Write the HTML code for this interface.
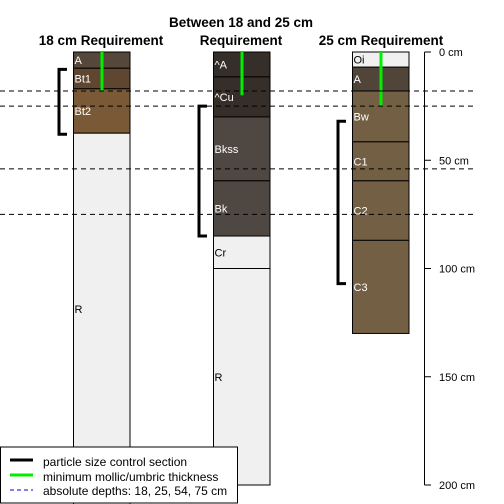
<!DOCTYPE html>
<html><head><meta charset="utf-8"><style>
body{margin:0;background:#fff;}
svg{display:block;font-family:"Liberation Sans",sans-serif;}
</style></head><body>
<svg id="c" width="504" height="504" viewBox="0 0 504 504">
<g id="titles" font-weight="bold" font-size="13.5" text-anchor="middle" fill="#000">
<text x="101" y="45">18 cm Requirement</text>
<text x="241" y="27">Between 18 and 25 cm</text>
<text x="241" y="45">Requirement</text>
<text x="381" y="45">25 cm Requirement</text>
</g>
<g id="profiles"></g>
<g id="dashes"></g>
<g id="axis"></g>
<g>
<rect x="0.5" y="447" width="237" height="56" fill="#fff" stroke="#000"/>
<line x1="10" y1="460" x2="33" y2="460" stroke="#000" stroke-width="3"/>
<line x1="10" y1="475" x2="33" y2="475" stroke="#00ee00" stroke-width="3"/>
<line x1="10" y1="490" x2="33" y2="490" stroke="#0000cc" stroke-dasharray="4,3"/>
<g font-size="12" fill="#000">
<text x="43" y="466">particle size control section</text>
<text x="43" y="481">minimum mollic/umbric thickness</text>
<text x="43" y="495">absolute depths: 18, 25, 54, 75 cm</text>
</g>
</g>
</svg>
<script>
const p1Names=["A","Bt1","Bt2","R"];
const p1Tops=[0,7.5,17,37.5];
const p1Bots=[7.5,17,37.5,215];
const p1Colors=["#55483a","#5e4630","#7a5a36","#f0f0f0"];
const p2Names=["^A","^Cu","Bkss","Bk","Cr","R"];
const p2Tops=[0,11.5,30,59.5,85,100];
const p2Bots=[11.5,30,59.5,85,100,200];
const p2Colors=["#352e29","#352e29","#4f4741","#4f4741","#f0f0f0","#f0f0f0"];
const p3Names=["Oi","A","Bw","C1","C2","C3"];
const p3Tops=[0,7,18,41.5,59.5,87];
const p3Bots=[7,18,41.5,59.5,87,130];
const p3Colors=["#f0f0f0","#514539","#735f43","#735f43","#735f43","#735f43"];
const mollic=[18,20,25];
const pscTop=[8,25,32];
const pscBot=[38,85,107];
const absDepths=[18,25,54,75];
const axisTicks=[0,50,100,150,200];

const NS="http://www.w3.org/2000/svg";
const y=d=>52+d*2.165;
function mk(tag,attrs,parent){const e=document.createElementNS(NS,tag);for(const k in attrs)e.setAttribute(k,attrs[k]);parent.appendChild(e);return e;}
const gp=document.getElementById('profiles');
const profs=[[p1Names,p1Tops,p1Bots,p1Colors,73],[p2Names,p2Tops,p2Bots,p2Colors,213],[p3Names,p3Tops,p3Bots,p3Colors,352]];
const W=56.5;
profs.forEach((p,pi)=>{
 const [n,t,b,c,x]=p;
 n.forEach((nm,i)=>{
  const r=mk('rect',{x:x+0.5,y:y(t[i]),width:W,height:y(b[i])-y(t[i]),fill:c[i],stroke:'#000','stroke-width':1},gp);
  
  
  const light=c[i]!=="#f0f0f0";
  const tx=mk('text',{x:x+1.5,y:(y(t[i])+y(Math.min(b[i],200)))/2+4,'font-size':11,fill:light?'#fff':'#000'},gp);
  tx.textContent=nm;
  
  
 });
 const cx=x+29;
 const g=mk('line',{x1:cx,y1:y(0),x2:cx,y2:y(mollic[pi]),stroke:'#00ee00','stroke-width':3},gp);
 
 
 const bx=x-14;
 const br=mk('path',{d:`M${bx+8},${y(pscTop[pi])} H${bx} V${y(pscBot[pi])} H${bx+8}`,fill:'none',stroke:'#000','stroke-width':3},gp);
 
 
});
const gd=document.getElementById('dashes');
absDepths.forEach(d=>{
 const l=mk('line',{x1:0,y1:y(d),x2:476,y2:y(d),stroke:'#000','stroke-dasharray':'5,4'},gd);
 
 
});
const ga=document.getElementById('axis');
const al=mk('line',{x1:424.5,y1:y(0),x2:424.5,y2:y(200),stroke:'#000'},ga);


axisTicks.forEach(d=>{
 const tk=mk('line',{x1:424.5,y1:y(d),x2:431,y2:y(d),stroke:'#000'},ga);
 
 
 const t=mk('text',{x:439,y:y(d)+4,'font-size':11,fill:'#000'},ga);
 t.textContent=d+' cm';
 
 
});
</script>
</body></html>
